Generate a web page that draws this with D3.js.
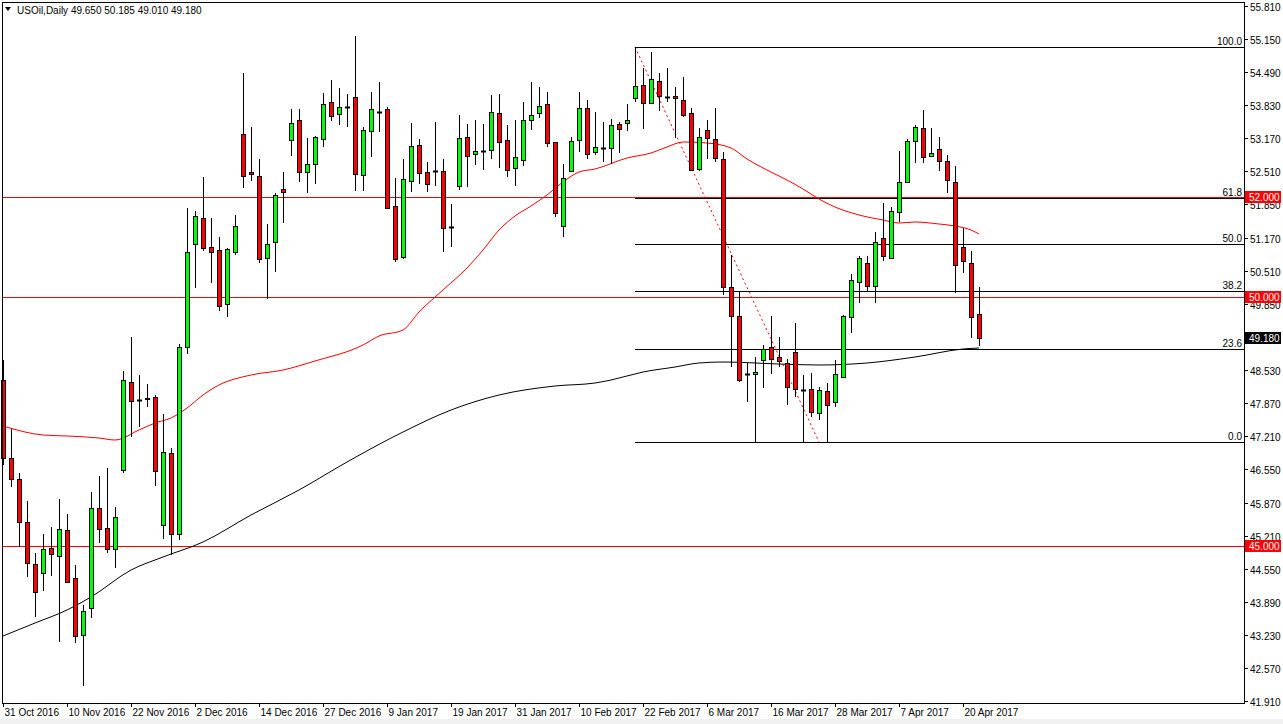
<!DOCTYPE html>
<html><head><meta charset="utf-8">
<script src="https://cdn.jsdelivr.net/npm/d3@7/dist/d3.min.js"></script>
<style>body{margin:0;background:#fff}svg{display:block}text{font-family:"Liberation Sans",Arial,sans-serif;font-size:10px}</style>
</head><body><svg id="c" width="1283" height="724"></svg>
<script>
const opens  = [48.33,46.77,46.35,45.49,44.65,44.47,44.97,44.81,45.33,44.37,43.23,43.77,45.77,45.37,44.95,46.53,48.29,47.93,47.95,47.99,45.43,46.87,45.25,48.99,51.05,51.57,50.99,50.93,49.85,50.89,53.25,52.49,52.41,50.77,51.09,52.15,53.13,53.53,52.49,52.65,53.15,53.89,53.65,53.79,53.99,52.43,53.31,53.69,53.75,51.81,50.79,52.31,53.03,52.49,52.51,52.51,51.39,52.21,53.19,52.85,52.91,52.93,53.67,53.13,52.57,52.73,53.53,53.67,53.85,53.09,51.41,52.51,53.13,53.77,52.89,52.97,52.97,53.45,53.47,53.97,54.23,53.87,54.31,53.99,54.01,53.93,53.67,52.55,53.33,53.15,52.75,50.19,49.61,48.45,48.45,48.73,48.99,48.79,48.67,48.89,48.13,48.15,47.67,48.11,47.89,48.39,49.59,50.29,50.67,50.21,51.17,50.77,51.69,52.29,53.11,53.37,52.81,52.95,52.71,52.29,50.99,50.67,49.65];
const highs  = [48.73,47.35,46.47,45.91,44.87,45.25,45.39,45.95,45.65,44.63,43.83,46.09,46.41,46.57,45.79,48.51,49.19,48.43,48.25,48.03,47.65,46.97,49.05,51.77,51.71,52.39,51.57,51.19,50.97,51.63,54.47,53.39,52.75,51.45,52.07,52.49,53.75,53.75,53.17,53.21,54.07,54.33,54.17,54.05,55.21,53.39,54.09,54.29,53.79,52.37,52.75,53.47,53.15,52.69,53.49,52.75,51.85,53.63,53.45,53.53,53.45,54.03,54.05,53.43,53.53,53.89,54.29,54.19,54.09,53.09,52.65,53.19,54.09,53.93,53.69,53.49,53.55,53.49,53.85,54.99,54.57,54.89,54.47,54.57,54.19,54.39,53.77,53.37,53.53,53.77,52.89,50.83,50.09,48.67,48.79,49.03,49.61,49.19,48.75,49.47,48.43,48.47,48.19,48.27,48.73,49.63,50.45,50.81,50.81,51.29,51.87,51.79,52.91,53.15,53.43,53.73,53.37,53.19,52.83,52.61,51.37,50.91,50.185];
const lows   = [46.63,46.19,44.99,44.39,43.59,44.11,44.41,43.09,44.29,43.07,42.21,43.57,45.07,44.87,44.57,46.47,47.19,47.39,47.79,46.21,45.15,44.83,45.13,48.85,50.17,50.91,50.27,49.71,49.59,50.83,52.17,52.31,50.67,49.95,50.49,51.47,52.81,52.29,52.07,52.25,52.99,53.51,53.43,53.39,52.11,52.11,52.79,53.29,51.75,50.69,50.75,52.09,52.25,52.09,52.21,50.89,50.99,52.13,52.19,52.63,52.53,52.75,52.57,52.39,52.21,52.61,53.33,53.57,52.99,51.59,51.19,52.49,52.89,52.75,52.83,52.69,52.65,52.87,53.31,53.89,53.35,53.85,53.71,53.89,53.17,53.59,52.51,52.51,52.75,52.69,50.03,48.59,48.29,47.89,47.09,48.17,48.45,48.59,47.83,47.99,47.09,47.59,47.53,47.09,47.79,48.37,49.27,49.87,50.11,49.87,50.71,50.75,51.49,52.29,52.67,52.67,52.81,52.51,52.07,50.07,50.47,49.17,49.01];
const closes = [46.77,46.35,45.49,44.67,44.09,44.95,44.85,45.35,44.29,43.21,43.71,45.77,45.35,44.95,45.59,48.33,47.91,47.93,47.97,46.51,46.89,45.25,48.99,50.89,51.61,50.97,50.89,49.81,50.95,51.41,52.41,52.45,50.75,51.05,52.03,52.09,53.47,52.49,52.65,53.19,53.85,53.61,53.79,53.79,52.45,53.33,53.75,53.69,51.77,50.75,52.35,53.01,52.47,52.25,52.51,51.37,51.39,53.17,52.81,52.91,52.91,53.69,53.09,52.53,52.79,53.53,53.63,53.81,53.07,51.67,52.37,53.11,53.77,52.85,52.99,52.97,53.43,53.35,53.53,54.21,53.87,54.35,54.01,53.99,53.97,53.63,52.53,53.19,53.17,52.77,50.19,49.61,48.33,48.45,48.49,48.95,48.75,48.71,48.19,48.15,48.13,47.69,48.13,47.83,48.45,49.61,50.33,50.77,50.21,51.09,50.81,51.71,52.29,53.11,53.39,52.79,52.87,52.71,52.33,50.63,50.71,49.59,49.18];
const maFastIdx = [0,5,8,12,14,17,19,21,23,25,27,31,35,39,45,47,50,52,55,58,60,62,64,66,68,70,72,74,78,81,83,85,88,91,93,95,98,100,102,104,107,110,112,114,117,119,121,122];
const maFastVal = [47.41,47.23,47.21,47.17,47.13,47.33,47.47,47.57,47.77,48.03,48.23,48.43,48.53,48.71,49.03,49.21,49.33,49.69,50.13,50.57,50.93,51.33,51.61,51.81,52.03,52.29,52.49,52.55,52.77,52.87,52.99,53.09,53.07,52.97,52.75,52.57,52.33,52.15,51.95,51.79,51.63,51.53,51.47,51.49,51.45,51.41,51.33,51.25];
const maSlowIdx = [0,4,8,11,16,20,25,31,37,43,50,56,62,69,74,76,80,84,87,90,97,102,108,114,120,122];
const maSlowVal = [43.21,43.47,43.73,43.99,44.53,44.79,45.09,45.63,46.13,46.69,47.29,47.73,48.03,48.21,48.27,48.33,48.49,48.59,48.67,48.69,48.65,48.63,48.67,48.79,48.95,48.97];
const yTicks = [55.81,55.15,54.49,53.83,53.17,52.51,51.85,51.17,50.51,49.85,48.53,47.87,47.21,46.55,45.87,45.21,44.55,43.89,43.23,42.57,41.91];
const xTickIdx = [0,8,16,24,32,40,48,56,64,72,80,88,96,104,112,120];
const xTickLabels = ["31 Oct 2016","10 Nov 2016","22 Nov 2016","2 Dec 2016","14 Dec 2016","27 Dec 2016","9 Jan 2017","19 Jan 2017","31 Jan 2017","10 Feb 2017","22 Feb 2017","6 Mar 2017","16 Mar 2017","28 Mar 2017","7 Apr 2017","20 Apr 2017"];
const hLines = [52.0,50.0,45.0];
const fibLevels = [0,23.6,38.2,50.0,61.8,100.0];
const fibLow = 47.09, fibHigh = 54.99, fibStartIdx = 79, fibEndIdx = 102;
const title = "USOil,Daily  49.650 50.185 49.010 49.180";

const svg = d3.select("#c");
const L=2,R=1244,T=2,B=703;
const x = d3.scaleLinear().domain([0,122]).range([3,979]);
const y = d3.scaleLinear().domain([41.91,55.81]).range([701,6]);
const px = v=>Math.round(v)+0.5;

svg.append("rect").attr("x",0).attr("y",719).attr("width",1283).attr("height",5).attr("fill","#f0f0f0");
fibLevels.forEach(l=>{
  const p = fibLow + (fibHigh-fibLow)*l/100;
  const yy = px(y(p));
  svg.append("line").attr("x1",Math.round(x(fibStartIdx))).attr("x2",R).attr("y1",yy).attr("y2",yy).attr("stroke","#000");
  svg.append("text").attr("x",R-2).attr("y",yy-3).attr("text-anchor","end").text(l.toFixed(1));
});
svg.append("line").attr("x1",x(fibStartIdx)).attr("y1",y(fibHigh)).attr("x2",x(fibEndIdx)).attr("y2",y(fibLow))
  .attr("stroke","red").attr("stroke-dasharray","2,3");
hLines.forEach(h=>{
  const yy=px(y(h));
  svg.append("line").attr("x1",L).attr("x2",R).attr("y1",yy).attr("y2",yy).attr("stroke","#ff0000");
});
const line = d3.line().x(d=>x(d[0])).y(d=>y(d[1])).curve(d3.curveMonotoneX);
svg.append("path").attr("d",line(maFastIdx.map((v,i)=>[v,maFastVal[i]]))).attr("fill","none").attr("stroke","red");
svg.append("path").attr("d",line(maSlowIdx.map((v,i)=>[v,maSlowVal[i]]))).attr("fill","none").attr("stroke","#000");
const g = svg.append("g");
opens.forEach((o,i)=>{
  const c=closes[i], cx=px(x(i));
  g.append("line").attr("x1",cx).attr("x2",cx).attr("y1",Math.round(y(highs[i]))).attr("y2",Math.round(y(lows[i]))).attr("stroke","#000");
  const top=Math.round(y(Math.max(o,c))), bot=Math.round(y(Math.min(o,c)));
  if(bot-top<1){
    g.append("line").attr("x1",cx-2.5).attr("x2",cx+2.5).attr("y1",top+0.5).attr("y2",top+0.5).attr("stroke","#000").attr("stroke-width",2);
  } else {
    g.append("rect").attr("x",cx-2).attr("y",top+0.5).attr("width",4).attr("height",bot-top)
      .attr("fill",c>=o?"#00ff00":"#ff0000").attr("stroke","#000");
  }
});
svg.append("rect").attr("x",L+0.5).attr("y",T+0.5).attr("width",R-L).attr("height",B-T).attr("fill","none").attr("stroke","#000");
yTicks.forEach(t=>{
  const yy=px(y(t));
  svg.append("line").attr("x1",R).attr("x2",R+4).attr("y1",yy).attr("y2",yy).attr("stroke","#000");
  svg.append("text").attr("x",R+6).attr("y",yy+4).text(t.toFixed(3));
});
function tag(p,bg,fg){
  const yy=Math.round(y(p));
  svg.append("rect").attr("x",R+1).attr("y",yy-6).attr("width",36).attr("height",12).attr("fill",bg);
  svg.append("text").attr("x",R+5).attr("y",yy+4).attr("fill",fg).text(p.toFixed(3));
}
hLines.forEach(h=>tag(h,"#ff0000","#fff"));
tag(closes[closes.length-1],"#000","#fff");
xTickIdx.forEach((t,i)=>{
  const xx=px(x(t));
  svg.append("line").attr("x1",xx).attr("x2",xx).attr("y1",B).attr("y2",B+4).attr("stroke","#000");
  svg.append("text").attr("x",xx+1).attr("y",716).text(xTickLabels[i]);
});
svg.append("path").attr("d","M5,7 L11,7 L8,11 Z").attr("fill","#000");
svg.append("text").attr("x",17).attr("y",14).text(title);
</script></body></html>
